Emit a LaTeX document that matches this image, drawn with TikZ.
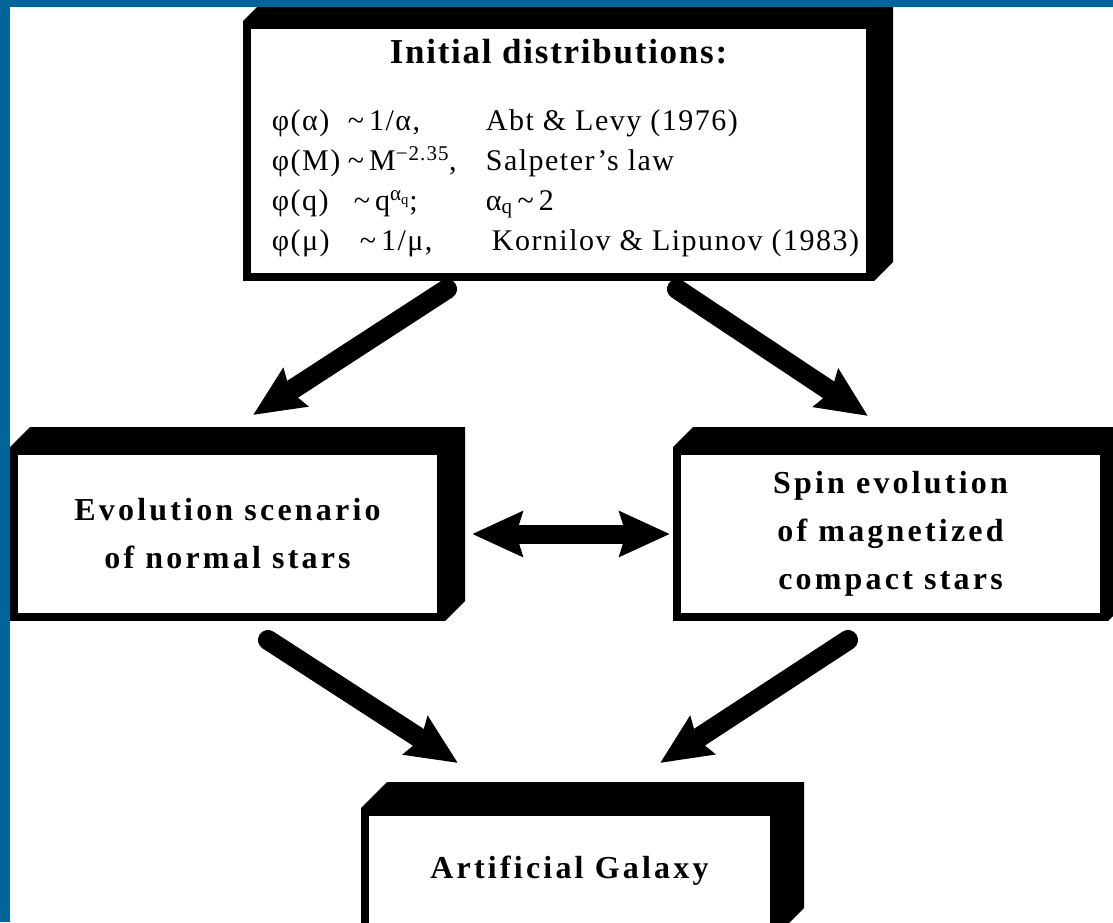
\documentclass[tikz,border=0pt]{standalone}
\usepackage{fontspec}
\setmainfont{Liberation Serif}
\newfontfamily\slabfont[LetterSpace=10]{Liberation Serif}
\newfontfamily\headfont[LetterSpace=5]{Liberation Serif}
\newfontfamily\lawfont[LetterSpace=5]{Liberation Serif}
\usetikzlibrary{arrows.meta, positioning, calc}
\definecolor{frameblue}{RGB}{0,102,153}

% top and right face of a box
\newcommand{\extrude}[2]{%
  \fill (#1.north west) -- ++(#2,-#2) -- ($(#1.north east)+(#2,-#2)$)
    -- ($(#1.south east)+(#2,-#2)$) -- (#1.south east) -- (#1.north east) -- cycle;}

\begin{document}
\begin{tikzpicture}[
        x=1pt, y=-1pt,
        slab/.style={draw, line width=8pt, fill=white, inner sep=0pt, outer sep=4pt, align=center,
            font=\slabfont\bfseries\fontsize{32}{48}\selectfont},
        fat/.style={line width=20pt, line cap=round, -{Stealth[length=50pt, width=44pt, inset=6pt]}},
        both/.style={line width=19pt, {Stealth[length=50pt, width=44pt, inset=6pt]}-{Stealth[length=50pt, width=44pt, inset=6pt]}}
    ]
        \useasboundingbox (0,0) rectangle (1113,922);
        \clip (0,0) rectangle (1113,922);
        \fill[white] (0,0) rectangle (1113,922);

        \node[slab, minimum width=623pt, minimum height=252pt, font=\lawfont\fontsize{30}{40}\selectfont] (init) at (558.5,151) {%
            \begin{tabular}{@{\hspace{14pt}}p{76pt}@{}p{138pt}@{}l@{}}
            \multicolumn{3}{@{}c@{}}{\headfont\bfseries\fontsize{35}{42}\selectfont Initial distributions:}\\[27pt]
            φ(α) & \textasciitilde\,1/α, & Abt \& Levy (1976)\\
            φ(M) & \textasciitilde\,M\textsuperscript{−2.35}, & Salpeter’s law\\
            φ(q) & \hspace{6pt}\textasciitilde\,q\textsuperscript{α\textsubscript{q}}; & α\textsubscript{q}\,\textasciitilde\,2\\
            φ(μ) & \hspace{12pt}\textasciitilde\,1/μ, & \hspace{6pt}Kornilov \& Lipunov (1983)\rule[-17pt]{0pt}{0pt}
            \end{tabular}};
        \node[slab, minimum width=427pt, minimum height=166pt] (normal)  at (227.5,534) {Evolution scenario\\of normal stars};
        \node[slab, minimum width=427pt, minimum height=166pt] (compact) at (890.5,534) {Spin evolution\\of magnetized\\compact stars};
        \node[slab, minimum width=409pt, minimum height=118pt] (galaxy)  at (569.5,871) {Artificial Galaxy};

        \extrude{init}{19}
        \extrude{normal}{20}
        \extrude{compact}{20}
        \extrude{galaxy}{26}

        \draw[fat] ($(init.south)+(-111.5,8)$) -- ($(normal.north)+(25.5,-32)$);
        \draw[fat] ($(init.south)+(118.5,8)$) -- ($(compact.north)+(-22.5,-31)$);
        \draw[both] ($(normal.east)+(27,0)$) -- ($(compact.west)+(-3,0)$);
        \draw[fat] ($(normal.south)+(40.5,19)$) -- ($(galaxy.north)+(-111.5,-45)$);
        \draw[fat] ($(compact.south)+(-42.5,19)$) -- ($(galaxy.north)+(90.5,-45)$);

        % frame of the slide
        \fill[frameblue] (0,0) rectangle (1113,7);
        \fill[frameblue] (0,0) rectangle (10,922);
    \end{tikzpicture}
\end{document}
